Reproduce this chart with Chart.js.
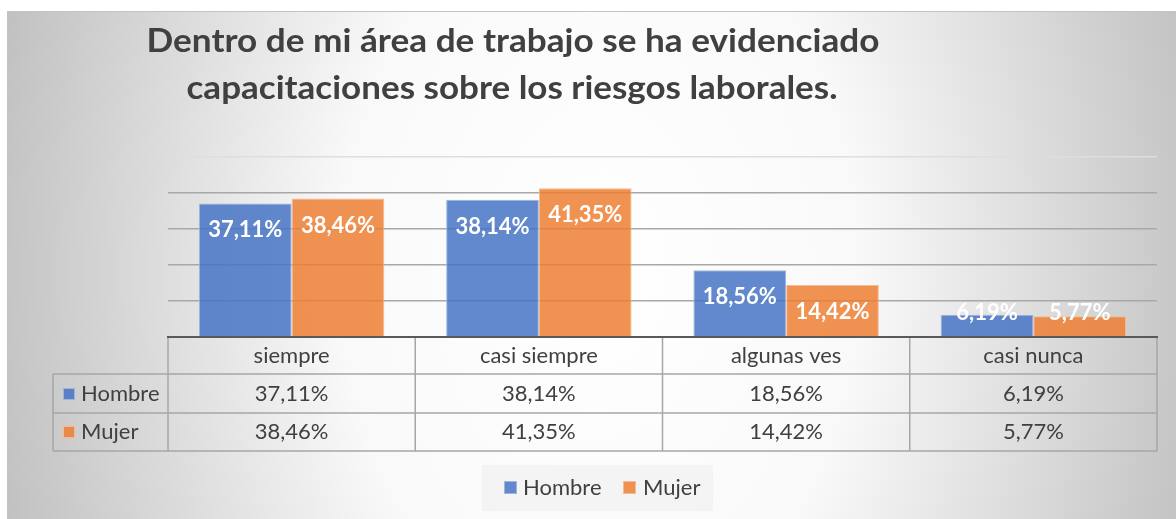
<!DOCTYPE html>
<html>
<head>
<meta charset="utf-8">
<script src="https://cdn.jsdelivr.net/npm/chart.js@4/dist/chart.umd.min.js"></script>
<style>
  html, body { margin: 0; padding: 0; background: #fff; }
  canvas { display: block; }
</style>
</head>
<body>
<canvas id="chart" width="1176" height="519"></canvas>
<script>
// Chart data
const categories = ['siempre', 'casi siempre', 'algunas ves', 'casi nunca']
const seriesNames = ['Hombre', 'Mujer']
const hombre = [37.11, 38.14, 18.56, 6.19]
const mujer = [38.46, 41.35, 14.42, 5.77]
const yTicks = [0, 10, 20, 30, 40, 50]
const titleLines = ['Dentro de mi área de trabajo se ha evidenciado', 'capacitaciones sobre los riesgos laborales.']

const fill = ['rgba(68,114,196,0.84)', 'rgba(237,125,49,0.84)']
const edge = ['#9db5e0', '#f6bb93']
const fmt = v => v.toFixed(2).replace('.', ',') + '%'
const FONT = 'Lato, "Noto Sans", sans-serif'

// draws text squeezed/stretched horizontally to a target width
function fitText(ctx, text, cx, y, width) {
  const w = ctx.measureText(text).width
  const s = width / w
  ctx.save()
  ctx.translate(cx, y)
  ctx.scale(s, 1)
  ctx.textAlign = 'center'
  ctx.fillText(text, 0, 0)
  ctx.restore()
}

const backgroundPlugin = {
  id: 'bg',
  beforeDraw(chart) {
    const ctx = chart.ctx
    ctx.save()
    ctx.fillStyle = '#fff'
    ctx.fillRect(0, 0, chart.width, chart.height)
    // elliptical radial gradient, wider than tall
    ctx.beginPath()
    ctx.rect(7, 11, chart.width - 7, chart.height - 11)
    ctx.clip()
    ctx.translate(600, 270)
    ctx.scale(1, 1.45)
    const g = ctx.createRadialGradient(0, 0, 0, 0, 0, 650)
    g.addColorStop(0, '#ffffff')
    g.addColorStop(0.4, '#f9f9f9')
    g.addColorStop(1, '#bcbcbc')
    ctx.fillStyle = g
    ctx.fillRect(-700, -400, 1400, 800)
    ctx.restore()
    ctx.save()
    ctx.strokeStyle = '#c4c4c4'
    ctx.lineWidth = 1
    ctx.beginPath()
    ctx.moveTo(7.5, chart.height); ctx.lineTo(7.5, 11.5); ctx.lineTo(chart.width, 11.5)
    ctx.stroke()
    ctx.restore()
  }
}

const labelsPlugin = {
  id: 'barLabels',
  afterDatasetsDraw(chart) {
    const ctx = chart.ctx
    const bottom = chart.chartArea.bottom
    ctx.save()
    ctx.fillStyle = '#fff'
    ctx.font = 'bold 22px ' + FONT
    ctx.textAlign = 'center'
    ctx.textBaseline = 'middle'
    chart.data.datasets.forEach((ds, i) => {
      chart.getDatasetMeta(i).data.forEach((bar, j) => {
        const y = Math.min(bar.y + 27, bottom - 24)
        ctx.fillText(fmt(ds.data[j]), bar.x, y)
      })
    })
    ctx.restore()
  }
}

const tablePlugin = {
  id: 'dataTable',
  afterDraw(chart) {
    const ctx = chart.ctx
    const area = chart.chartArea
    const xs = chart.scales.x
    const colW = area.width / categories.length
    const rows = [337, 374, 413, 451]
    const left = 53
    ctx.save()

    // title
    ctx.fillStyle = '#404040'
    ctx.font = 'bold 32px ' + FONT
    ctx.textBaseline = 'alphabetic'
    fitText(ctx, titleLines[0], 513, 52, 733)
    fitText(ctx, titleLines[1], 512, 99, 651)

    // grid of the data table
    ctx.strokeStyle = '#a6a6a6'
    ctx.lineWidth = 1.5
    ctx.beginPath()
    for (let r = 1; r < rows.length; r++) {
      ctx.moveTo(left, rows[r]); ctx.lineTo(area.right, rows[r])
    }
    ctx.moveTo(left, rows[1]); ctx.lineTo(left, rows[3])
    for (let c = 0; c <= categories.length; c++) {
      const x = area.left + c * colW
      ctx.moveTo(x, rows[0]); ctx.lineTo(x, rows[3])
    }
    ctx.stroke()

    // axis line
    ctx.strokeStyle = '#595959'
    ctx.lineWidth = 2
    ctx.beginPath()
    ctx.moveTo(area.left - 1, area.bottom); ctx.lineTo(area.right + 1, area.bottom)
    ctx.stroke()

    // cell texts
    ctx.fillStyle = '#404040'
    ctx.font = '22px ' + FONT
    ctx.textAlign = 'center'
    ctx.textBaseline = 'middle'
    categories.forEach((c, i) => {
      const cx = xs.getPixelForValue(i)
      ctx.fillText(c, cx, 356)
      ctx.fillText(fmt(hombre[i]), cx, 394)
      ctx.fillText(fmt(mujer[i]), cx, 432)
    })

    // row headers with keys
    ctx.textAlign = 'left'
    seriesNames.forEach((n, i) => {
      const y = [394, 432][i]
      ctx.fillStyle = fill[i]
      ctx.fillRect(63, y - 6, 12, 12)
      ctx.strokeStyle = edge[i]
      ctx.lineWidth = 1
      ctx.strokeRect(63.5, y - 5.5, 11, 11)
      ctx.fillStyle = '#404040'
      ctx.fillText(n, 81, y)
    })

    // legend
    ctx.fillStyle = 'rgba(236,236,236,0.45)'
    ctx.fillRect(482, 465, 231, 46)
    const legendX = [[504, 523], [623, 643]]
    seriesNames.forEach((n, i) => {
      ctx.fillStyle = fill[i]
      ctx.fillRect(legendX[i][0], 481, 13, 13)
      ctx.strokeStyle = edge[i]
      ctx.lineWidth = 1
      ctx.strokeRect(legendX[i][0] + 0.5, 481.5, 12, 12)
      ctx.fillStyle = '#404040'
      ctx.fillText(n, legendX[i][1], 488)
    })
    ctx.restore()
  }
}

const chart = new Chart(document.getElementById('chart').getContext('2d'), {
  type: 'bar',
  data: {
    labels: categories,
    datasets: [
      { label: seriesNames[0], data: hombre, backgroundColor: fill[0], borderColor: edge[0], borderWidth: 1 },
      { label: seriesNames[1], data: mujer, backgroundColor: fill[1], borderColor: edge[1], borderWidth: 1 }
    ]
  },
  options: {
    responsive: false,
    animation: false,
    categoryPercentage: 0.75,
    barPercentage: 1,
    layout: { padding: { left: 168, right: 19, top: 157, bottom: 182 } },
    plugins: { legend: { display: false }, title: { display: false }, tooltip: { enabled: false } },
    scales: {
      x: {
        ticks: { display: false },
        grid: { display: false, drawTicks: false },
        border: { display: false },
        afterFit: (s) => { s.height = 0 }
      },
      y: {
        min: yTicks[0],
        max: yTicks[yTicks.length - 1],
        afterBuildTicks: (s) => { s.ticks = yTicks.map(v => ({ value: v })) },
        ticks: { display: false },
        grid: {
          drawTicks: false,
          lineWidth: 1.5,
          color: (c) => c.tick && c.tick.value === 50 ? '#dedede' : '#a8a8a8'
        },
        border: { display: false },
        afterFit: (s) => { s.width = 0 }
      }
    }
  },
  plugins: [backgroundPlugin, labelsPlugin, tablePlugin]
})
</script>
</body>
</html>
